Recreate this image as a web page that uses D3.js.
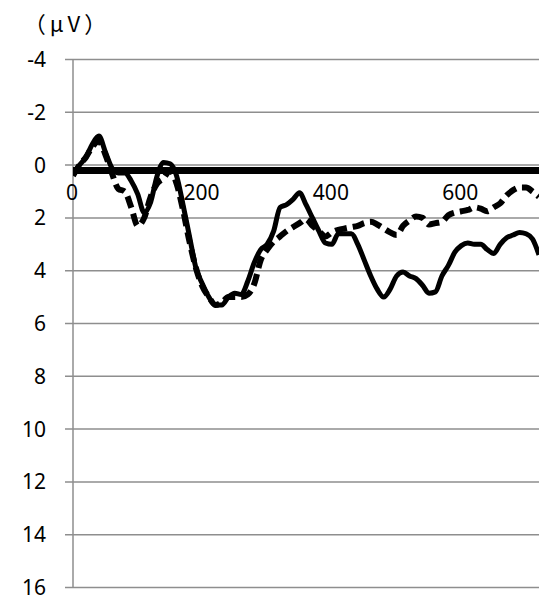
<!DOCTYPE html>
<html>
<head>
<meta charset="utf-8">
<script src="https://cdnjs.cloudflare.com/ajax/libs/d3/7.8.5/d3.min.js"></script>
<style>
  body { margin: 0; background: #fff; }
  svg { display: block; }
</style>
</head>
<body>
<div id="chart"></div>
<script>
// time points (ms) shared by both waves
var times = d3.range(0, 730, 10);

// solid wave (µV, positive plotted downward)
var solidValues = [
  0.3, 0.0, -0.3, -0.8, -1.1, -0.5, 0.1, 0.3, 0.3, 0.6,
  1.1, 1.8, 1.4, 0.4, -0.1, -0.05, 0.4, 1.5, 2.7, 3.9,
  4.5, 5.0, 5.3, 5.3, 5.0, 4.85, 4.9, 4.4, 3.7, 3.2,
  3.0, 2.5, 1.6, 1.5, 1.3, 1.05, 1.5, 2.0, 2.5, 2.95,
  3.0, 2.6, 2.6, 2.6, 3.0, 3.6, 4.2, 4.7, 5.0, 4.7,
  4.2, 4.05, 4.2, 4.3, 4.55, 4.85, 4.8, 4.2, 3.8, 3.3,
  3.05, 2.95, 3.0, 3.0, 3.2, 3.35, 3.0, 2.75, 2.65, 2.55,
  2.6, 2.8, 3.4
];

// dashed wave
var dashedValues = [
  0.4, 0.0, -0.3, -0.7, -0.9, -0.4, 0.3, 0.9, 1.0, 1.6,
  2.3, 2.0, 1.2, 0.7, 0.5, 0.2, 0.7, 1.7, 2.9, 3.9,
  4.6, 5.0, 5.3, 5.2, 5.0, 5.0, 5.0, 4.9, 4.5, 3.6,
  3.2, 2.9, 2.7, 2.5, 2.35, 2.2, 2.05, 2.3, 2.5, 2.7,
  2.55, 2.45, 2.4, 2.35, 2.3, 2.2, 2.15, 2.25, 2.4, 2.55,
  2.65, 2.3, 2.1, 1.95, 2.0, 2.25, 2.2, 2.15, 1.9, 1.8,
  1.75, 1.7, 1.6, 1.65, 1.75, 1.6, 1.45, 1.15, 0.95, 0.85,
  0.85, 1.0, 1.2
];

var yTicks = [-4, -2, 0, 2, 4, 6, 8, 10, 12, 14, 16];
var xTicks = [0, 200, 400, 600];
var unitLabel = "（μV）";

var width = 539, height = 598;
var font = "'Noto Sans', 'Open Sans', sans-serif";

var x = d3.scaleLinear()
    .domain([0, 720])
    .range([73, 539]);

var y = d3.scaleLinear()
    .domain([-4, 16])
    .range([59.5, 587.5]);

var svg = d3.select('#chart')
    .append('svg')
    .attr('width', width)
    .attr('height', height);

svg.append('defs').append('clipPath')
    .attr('id', 'plot-clip')
  .append('rect')
    .attr('x', 73)
    .attr('y', 0)
    .attr('width', width - 73)
    .attr('height', height);

// horizontal gridlines with tick stubs
svg.append('g')
    .selectAll('line')
    .data(yTicks)
    .enter().append('line')
    .attr('x1', 65)
    .attr('x2', width)
    .attr('y1', function(d) { return y(d); })
    .attr('y2', function(d) { return y(d); })
    .style('stroke', '#8e8e8e')
    .style('stroke-width', 1.5);

// y axis line
svg.append('line')
    .attr('x1', x(0))
    .attr('x2', x(0))
    .attr('y1', y(-4))
    .attr('y2', y(16))
    .style('stroke', '#8e8e8e')
    .style('stroke-width', 1.5);

// y labels
svg.append('g')
    .selectAll('text')
    .data(yTicks)
    .enter().append('text')
    .attr('x', 46)
    .attr('y', function(d) { return y(d); })
    .attr('dy', '0.36em')
    .attr('text-anchor', 'end')
    .style('font', '21px ' + font)
    .style('fill', '#000')
    .text(function(d) { return d; });

svg.append('text')
    .attr('x', 67)
    .attr('y', 32)
    .attr('text-anchor', 'middle')
    .style('font', "22px 'Noto Sans CJK JP', 'Noto Sans', sans-serif")
    .style('letter-spacing', '4px')
    .style('fill', '#000')
    .text(unitLabel);

// thick horizontal axis
svg.append('line')
    .attr('x1', x(0))
    .attr('x2', width)
    .attr('y1', y(0) + 5.5)
    .attr('y2', y(0) + 5.5)
    .style('stroke', '#000')
    .style('stroke-width', 7);

// x labels
svg.append('g')
    .selectAll('text')
    .data(xTicks)
    .enter().append('text')
    .attr('x', function(d) { return x(d) - 1; })
    .attr('y', 200)
    .attr('text-anchor', 'middle')
    .style('font', '21px ' + font)
    .style('fill', '#000')
    .text(function(d) { return d; });

var line = d3.line()
    .x(function(d, i) { return x(times[i]); })
    .y(function(d) { return y(d); })
    .curve(d3.curveMonotoneX);

var plot = svg.append('g')
    .attr('clip-path', 'url(#plot-clip)');

plot.append('path')
    .attr('class', 'line dashed')
    .attr('d', line(dashedValues))
    .style('fill', 'none')
    .style('stroke', '#000')
    .style('stroke-width', 6)
    .style('stroke-dasharray', '12,6')
    .style('stroke-linejoin', 'round');

plot.append('path')
    .attr('class', 'line solid')
    .attr('d', line(solidValues))
    .style('fill', 'none')
    .style('stroke', '#000')
    .style('stroke-width', 5)
    .style('stroke-linejoin', 'round');
</script>
</body>
</html>
